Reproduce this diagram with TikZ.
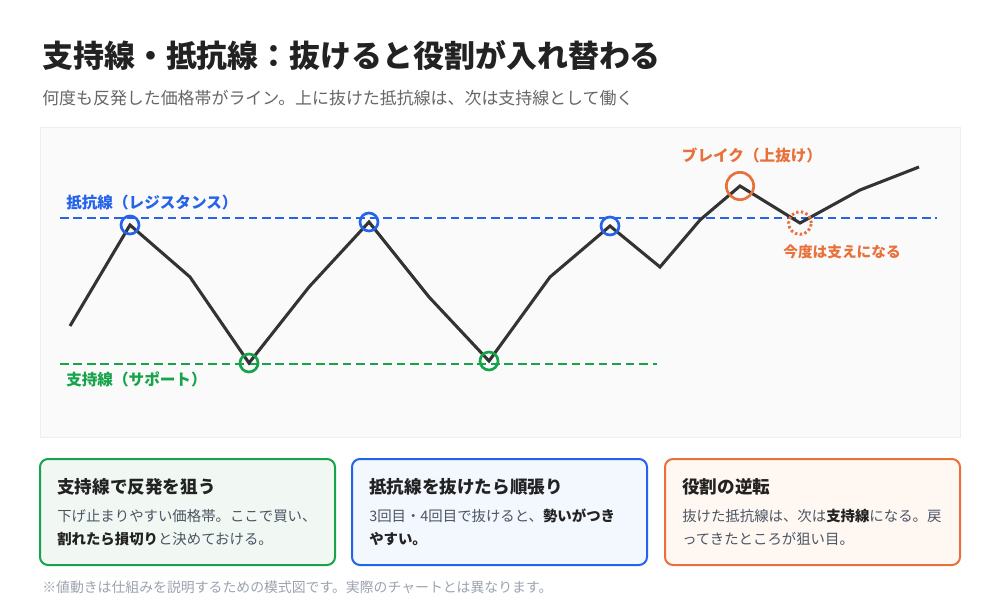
\documentclass[tikz,border=0pt]{standalone}
\usepackage{fontspec}
\setmainfont{Noto Sans CJK JP}
\usetikzlibrary{positioning,calc}
\definecolor{ink}{HTML}{222222}
\definecolor{bodygray}{HTML}{4B5563}
\definecolor{subgray}{HTML}{666666}
\definecolor{notegray}{HTML}{9CA3AF}
\definecolor{rblue}{HTML}{2563EB}
\definecolor{sgreen}{HTML}{16A34A}
\definecolor{borange}{HTML}{E8703A}
\definecolor{chartbg}{HTML}{FAFAFA}
\definecolor{chartrim}{HTML}{EEEEEE}
\definecolor{pricegray}{HTML}{333333}
\definecolor{sgreensoft}{HTML}{F1F8F3}
\definecolor{rbluesoft}{HTML}{F3F7FE}
\definecolor{borangesoft}{HTML}{FEF7F2}
\tikzset{
  panel/.style={draw=chartrim, fill=chartbg, line width=0.6pt,
    minimum width=690pt, minimum height=232.5pt, inner sep=0pt},
  level/.style={draw=#1, line width=1.9pt, dash pattern=on 6.5pt off 3.6pt},
  price/.style={draw=pricegray, line width=2.3pt, line join=miter},
  touch/.style={circle, draw=#1, line width=2pt, minimum size=13.5pt, inner sep=0pt},
  tag/.style={font=\fontsize{11}{13}\selectfont\bfseries, text=#1, inner sep=0pt},
  bigtag/.style={tag=#1, font=\fontsize{11.7}{13}\selectfont\bfseries},
  card/.style={draw=#1, fill=#1soft, line width=1.5pt, rounded corners=6pt,
    minimum width=221.25pt, minimum height=79.5pt, inner sep=0pt},
  cardhead/.style={font=\fontsize{13.2}{15}\selectfont\bfseries, text=ink,
    inner sep=0pt, anchor=west},
  cardline/.style={font=\fontsize{10.8}{13}\selectfont, text=bodygray,
    inner sep=0pt, anchor=west}
}
\newcommand{\hl}[1]{{\bfseries\color{ink}#1}}

\begin{document}
\begin{tikzpicture}[x=0.75pt, y=-0.75pt]
  \useasboundingbox[fill=white] (0,0) rectangle (1000,600);
  \node[inner sep=0pt, anchor=west, text=ink, font=\fontsize{23.2}{27}\selectfont\bfseries] (title) at (42,55) {支持線・抵抗線：抜けると役割が入れ替わる};
  \node[inner sep=0pt, anchor=west, text=subgray, font=\fontsize{12.7}{15}\selectfont] (sub) at (42,98) {何度も反発した価格帯がライン。上に抜けた抵抗線は、次は支持線として働く};

  \node[panel] (chart) at (500,282) {};
  \coordinate (rl) at (60,218); \coordinate (rr) at (937,218);
  \coordinate (sl) at (60,364); \coordinate (sr) at (657,364);
  \draw[level=rblue] (rl) -- (rr);
  \draw[level=sgreen] (sl) -- (sr);
  \node[bigtag=rblue, anchor=west] (rlab) at (66,203) {抵抗線（レジスタンス）};
  \node[bigtag=sgreen, anchor=west] (slab) at (66,379) {支持線（サポート）};

  \coordinate (r1) at (130,225); \coordinate (r2) at (369,222); \coordinate (r3) at (610,226);
  \coordinate (s1) at (249,363); \coordinate (s2) at (489,361);
  \coordinate (brk) at (740,186); \coordinate (rt) at (800,223);
  \draw[price] (70,326) -- (r1) -- (190,277) -- (s1) -- (309,287) -- (r2) -- (429,297) -- (s2)
    -- (550,277) -- (r3) -- (660,267) -- (700,220) -- (brk) -- (rt) -- (860,190) -- (919,167);
  \node[touch=rblue] (c1) at (r1) {};
  \node[touch=rblue] (c2) at (r2) {};
  \node[touch=rblue] (c3) at (r3) {};
  \node[touch=sgreen] (c4) at (s1) {};
  \node[touch=sgreen] (c5) at (s2) {};
  \node[touch=borange, minimum size=20.5pt] (cb) at (brk) {};
  \node[touch=borange, minimum size=17pt, line width=2.2pt, dash pattern=on 1.8pt off 1.8pt] (cr) at (rt) {};
  \node[bigtag=borange] (blab) at (752,155) {ブレイク（上抜け）};
  \node[tag=borange] (rlab2) at (842,252) {今度は支えになる};

  \node[card=sgreen] (gcard) at (187.5,512) {};
  \node[card=rblue] (bcard) at (499.5,512) {};
  \node[card=borange] (ocard) at (812.5,512) {};
  \node[cardhead] (ghead) at ([shift={(18,29)}]gcard.north west) {支持線で反発を狙う};
  \node[cardline] (gl1) at ([shift={(18,58)}]gcard.north west) {下げ止まりやすい価格帯。ここで買い、};
  \node[cardline] (gl2) at ([shift={(18,81)}]gcard.north west) {\hl{割れたら損切り}と決めておける。};
  \node[cardhead] (bhead) at ([shift={(18,29)}]bcard.north west) {抵抗線を抜けたら順張り};
  \node[cardline] (bl1) at ([shift={(18,58)}]bcard.north west) {3回目・4回目で抜けると、\hl{勢いがつき}};
  \node[cardline] (bl2) at ([shift={(18,81)}]bcard.north west) {\hl{やすい。}};
  \node[cardhead] (ohead) at ([shift={(18,29)}]ocard.north west) {役割の逆転};
  \node[cardline] (ol1) at ([shift={(18,58)}]ocard.north west) {抜けた抵抗線は、次は\hl{支持線}になる。戻};
  \node[cardline] (ol2) at ([shift={(18,81)}]ocard.north west) {ってきたところが狙い目。};

  \node[inner sep=0pt, anchor=west, text=notegray, font=\fontsize{10.4}{12}\selectfont] (note) at (42,587) {※値動きは仕組みを説明するための模式図です。実際のチャートとは異なります。};
\end{tikzpicture}
\end{document}
